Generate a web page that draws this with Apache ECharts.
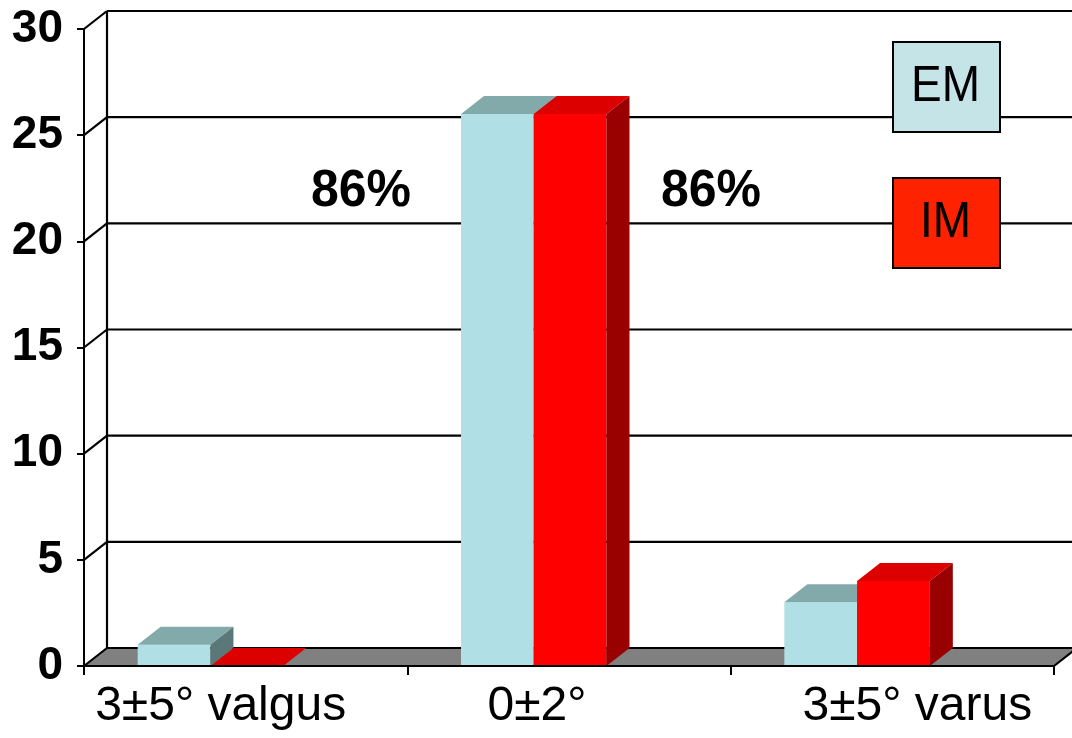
<!DOCTYPE html>
<html>
<head>
<meta charset="utf-8">
<script src="https://cdn.jsdelivr.net/npm/echarts@6/dist/echarts.min.js"></script>
<style>
	html, body { margin: 0; padding: 0; background: #fff; }
	#chart { width: 1072px; height: 738px; }
</style>
</head>
<body>
<div id="chart"></div>
<script>
// data
var categories = ['3±5° valgus', '0±2°', '3±5° varus'];
var emValues = [1, 26, 3];
var imValues = [0, 26, 4];
var yTicks = [0, 5, 10, 15, 20, 25, 30];
var seriesNames = ['EM', 'IM'];
var pctLabels = ['86%', '86%'];

// 3d look
var DX = 23, DY = -18;     // depth of the box
var BAR_W = 0.225;         // bar width, part of a category
var FONT = '"Liberation Sans", Arial, sans-serif';

function barRenderer(offset, front, top, side) {
	return function(params, api) {
		var idx = api.value(0);
		var p = api.coord([idx, api.value(1)]);
		var b = api.coord([idx, 0]);
		var catW = api.size([1, 0])[0];
		var x0 = p[0] + catW * offset;
		var x1 = x0 + catW * BAR_W;
		var yT = p[1], yB = b[1];
		return {
			type: 'group',
			children: [{
				type: 'rect',
				shape: { x: x0, y: yT, width: x1 - x0, height: yB - yT },
				style: { fill: front }
			}, {
				type: 'polygon',
				shape: { points: [[x0, yT], [x1, yT], [x1 + DX, yT + DY], [x0 + DX, yT + DY]] },
				style: { fill: top }
			}, {
				type: 'polygon',
				shape: { points: [[x1, yT], [x1 + DX, yT + DY], [x1 + DX, yB + DY], [x1, yB]] },
				style: { fill: side }
			}]
		};
	};
}

function wallRenderer(params, api) {
	var cs = params.coordSys;
	var v = api.value(1);
	var y = api.coord([0, v])[1];
	var x = cs.x;
	var W = api.getWidth();
	var line = { stroke: '#000', lineWidth: 2.2 };
	var kids = [];
	if (v === 0) {
		var xr = cs.x + cs.width;
		kids.push({
			type: 'polygon',
			shape: { points: [[x, y], [xr, y], [xr + DX, y + DY], [x + DX, y + DY]] },
			style: { fill: '#808080' }
		});
		kids.push({ type: 'line', shape: { x1: xr, y1: y, x2: xr + DX, y2: y + DY }, style: line });
	}
	if (v === yTicks[yTicks.length - 1]) {
		var y0 = api.coord([0, 0])[1];
		kids.push({ type: 'line', shape: { x1: x + DX, y1: y + DY, x2: x + DX, y2: y0 + DY }, style: line });
	}
	kids.push({ type: 'line', shape: { x1: x, y1: y, x2: x + DX, y2: y + DY }, style: line });
	kids.push({ type: 'line', shape: { x1: x + DX, y1: y + DY, x2: W, y2: y + DY }, style: line });
	return { type: 'group', children: kids };
}

var labelShift = [-25, -32, 25];
var legendColors = ['#C4E4E8', '#FF2200'];
var legendTop = [41, 177];
var pctPos = [[361, 192], [711, 192]];

var myChart = echarts.init(document.getElementById('chart'));

var graphics = [];
for (var i = 0; i < seriesNames.length; i++) {
	graphics.push({
		type: 'rect', left: 892, top: legendTop[i], z: 100,
		shape: { width: 107, height: 90 },
		style: { fill: legendColors[i], stroke: '#000', lineWidth: 2 }
	});
	graphics.push({
		type: 'text', x: 945.5, y: legendTop[i] + 46, z: 101, scaleY: 1.08,
		style: { text: seriesNames[i], font: '46px ' + FONT, fill: '#000', textAlign: 'center', textVerticalAlign: 'middle' }
	});
}
for (var j = 0; j < pctLabels.length; j++) {
	graphics.push({
		type: 'text', x: pctPos[j][0], y: pctPos[j][1], z: 101, scaleY: 1.05,
		style: { text: pctLabels[j], font: 'bold 50px ' + FONT, fill: '#000', textAlign: 'center', textVerticalAlign: 'middle' }
	});
}

var option = {
	animation: false,
	backgroundColor: '#fff',
	grid: { left: 84, right: 18, top: 29, bottom: 72 },
	xAxis: {
		type: 'category',
		data: categories.map(function(c, k) {
			var s = labelShift[k];
			return { value: c, textStyle: { padding: s < 0 ? [0, -2 * s, 0, 0] : [0, 0, 0, 2 * s] } };
		}),
		z: 5,
		axisLine: { lineStyle: { color: '#000', width: 2 } },
		axisTick: { show: true, interval: 0, length: 9, lineStyle: { color: '#000', width: 2 } },
		axisLabel: { interval: 0, hideOverlap: false, color: '#000', fontSize: 48, fontFamily: FONT, margin: 17 },
		splitLine: { show: false }
	},
	yAxis: {
		type: 'value',
		min: 0, max: 30, interval: 5,
		z: 5,
		axisLine: { show: true, lineStyle: { color: '#000', width: 2 } },
		axisTick: { show: true, length: 7, lineStyle: { color: '#000', width: 2 } },
		axisLabel: { color: '#000', fontSize: 46, fontWeight: 'bold', fontFamily: FONT, margin: 21 },
		splitLine: { show: false }
	},
	graphic: graphics,
	series: [{
		type: 'custom',
		name: 'wall',
		z: 1,
		renderItem: wallRenderer,
		encode: { x: 0, y: 1 },
		data: yTicks.map(function(v) { return [0, v]; })
	}, {
		type: 'custom',
		name: seriesNames[0],
		z: 2,
		renderItem: barRenderer(-0.334, '#B0E0E6', '#82AAAA', '#5A7878'),
		encode: { x: 0, y: 1 },
		data: emValues.map(function(v, k) { return [k, v]; })
	}, {
		type: 'custom',
		name: seriesNames[1],
		z: 3,
		renderItem: barRenderer(-0.334 + BAR_W, '#FF0000', '#DD0000', '#990000'),
		encode: { x: 0, y: 1 },
		data: imValues.map(function(v, k) { return [k, v]; })
	}]
};

myChart.setOption(option);
window.addEventListener('resize', function() {
	myChart.resize();
});
</script>
</body>
</html>
